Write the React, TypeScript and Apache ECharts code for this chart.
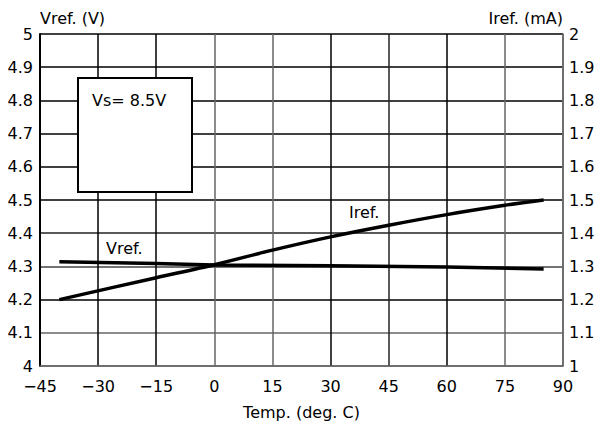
import React, { useEffect, useRef } from "react";
import * as echarts from "echarts";

const xTicks = [-45, -30, -15, 0, 15, 30, 45, 60, 75, 90];
const vrefTemps = [-40, -15, 0, 30, 60, 85];
const vrefValues = [4.314, 4.309, 4.304, 4.302, 4.298, 4.292];
const irefTemps = [-40, -15, 0, 15, 30, 45, 60, 75, 85];
const irefValues = [1.2, 1.266, 1.305, 1.349, 1.389, 1.424, 1.456, 1.484, 1.5];
const leftAxisName = "Vref. (V)";
const rightAxisName = "Iref. (mA)";
const xAxisName = "Temp. (deg. C)";
const boxText = "Vs= 8.5V";
const vrefLabel = "Vref.";
const irefLabel = "Iref.";

const FONT = "DejaVu Sans";

export default function App() {
  const ref = useRef<HTMLDivElement>(null);
  useEffect(() => {
    if (!ref.current) return;
    const chart = echarts.init(ref.current, null, { renderer: "svg" });
    const textStyle = { fontFamily: FONT, fontSize: 16, color: "#000" };
    chart.setOption({
      animation: false,
      backgroundColor: "#fff",
      textStyle,
      grid: {
        left: 40,
        right: 33,
        top: 34,
        bottom: 57,
        containLabel: false,
        outerBoundsMode: "none",
      },
      xAxis: {
        type: "value",
        min: xTicks[0],
        max: xTicks[xTicks.length - 1],
        interval: 15,
        name: xAxisName,
        nameLocation: "middle",
        nameGap: 38,
        nameTextStyle: { ...textStyle },
        axisLine: { show: true, onZero: false, lineStyle: { color: "#666", width: 1.5 } },
        axisTick: { show: false },
        axisLabel: {
          ...textStyle,
          margin: 12,
          formatter: (v: number) => String(v).replace("-", "\u2212"),
        },
        splitLine: {
          show: true,
          lineStyle: {
            color: ["#000", "#000", "#000", "#666", "#666", "#000", "#222", "#000", "#666", "#666"],
            width: 1.5,
          },
        },
      },
      yAxis: [
        {
          type: "value",
          min: 4,
          max: 5,
          interval: 0.1,
          position: "left",
          name: leftAxisName,
          nameLocation: "end",
          nameGap: 8,
          nameTextStyle: { ...textStyle, align: "left" },
          axisLine: { show: true, onZero: false, lineStyle: { color: "#000", width: 2 } },
          axisTick: { show: false },
          axisLabel: { ...textStyle, margin: 7 },
          splitLine: {
            show: true,
            lineStyle: {
              color: ["#666", "#666", "#000", "#444", "#222", "#000", "#000", "#000", "#000", "#000", "#000"],
              width: 1.5,
            },
          },
        },
        {
          type: "value",
          min: 1,
          max: 2,
          interval: 0.1,
          position: "right",
          name: rightAxisName,
          nameLocation: "end",
          nameGap: 8,
          nameTextStyle: { ...textStyle, align: "right" },
          axisLine: { show: true, onZero: false, lineStyle: { color: "#666", width: 1.5 } },
          axisTick: { show: false },
          axisLabel: { ...textStyle, margin: 6 },
          splitLine: { show: false },
        },
      ],
      series: [
        {
          type: "line",
          name: vrefLabel,
          yAxisIndex: 0,
          data: vrefTemps.map((t, i) => [t, vrefValues[i]]),
          showSymbol: false,
          symbol: "none",
          lineStyle: { color: "#000", width: 3.5 },
          z: 5,
        },
        {
          type: "line",
          name: irefLabel,
          yAxisIndex: 1,
          data: irefTemps.map((t, i) => [t, irefValues[i]]),
          showSymbol: false,
          symbol: "none",
          smooth: 0.3,
          lineStyle: { color: "#000", width: 3.5 },
          z: 5,
        },
      ],
      graphic: [
        {
          type: "rect",
          shape: { x: 78, y: 78, width: 114, height: 114 },
          style: { fill: "#fff", stroke: "#000", lineWidth: 2 },
          z: 10,
        },
        {
          type: "text",
          x: 92,
          y: 100,
          style: { text: boxText, font: `16px "${FONT}"`, fill: "#000", textVerticalAlign: "middle" },
          z: 11,
        },
        {
          type: "text",
          x: 106,
          y: 248,
          style: { text: vrefLabel, font: `16px "${FONT}"`, fill: "#000", textVerticalAlign: "middle" },
          z: 11,
        },
        {
          type: "text",
          x: 349,
          y: 212,
          style: { text: irefLabel, font: `16px "${FONT}"`, fill: "#000", textVerticalAlign: "middle" },
          z: 11,
        },
      ],
    });
    return () => chart.dispose();
  }, []);
  return (
    <div
      ref={ref}
      style={{ position: "fixed", left: 0, top: 0, width: 596, height: 423, background: "#fff" }}
    />
  );
}
